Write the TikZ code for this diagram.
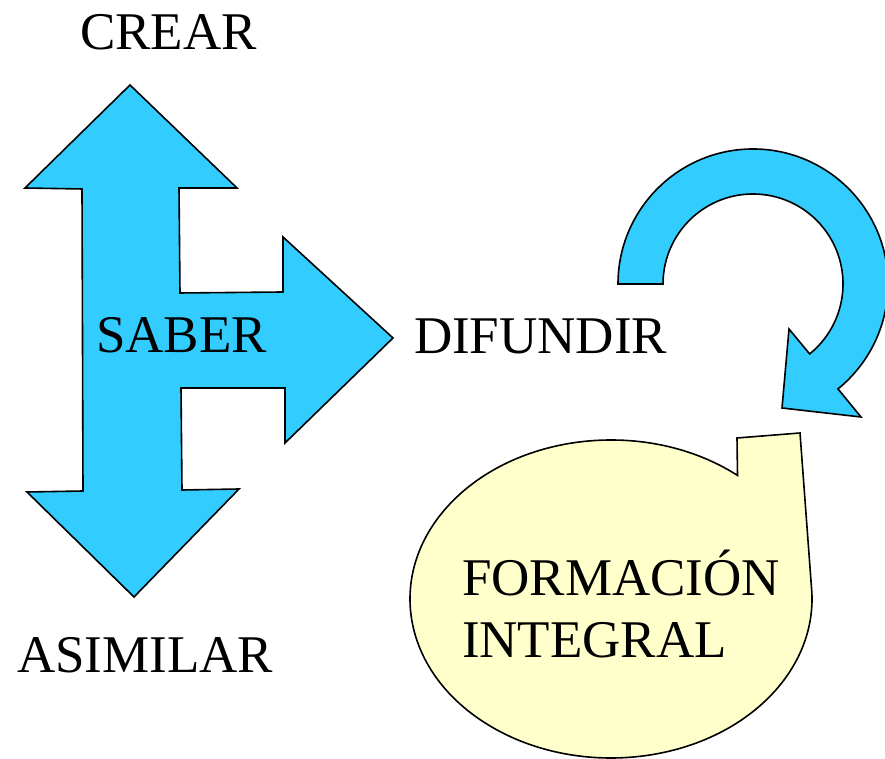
\documentclass[tikz,border=0pt]{standalone}
\usepackage{fontspec}
\setmainfont{Liberation Serif}
\usetikzlibrary{calc}
\definecolor{arrowblue}{HTML}{33CCFF}
\definecolor{bubbleyellow}{HTML}{FFFFCC}
\begin{document}
\begin{tikzpicture}[x=1pt,y=1pt,
  shapeblue/.style={fill=arrowblue,draw=black,line width=1.6pt,line join=miter},
  shapeyellow/.style={fill=bubbleyellow,draw=black,line width=1.6pt},
  bigtext/.style={inner sep=0pt,outer sep=0pt,font=\fontsize{53}{62}\selectfont}]
\clip (0,0) rectangle (885,759);
\fill[white] (0,0) rectangle (885,759);

% cross-shaped arrow
\draw[shapeblue] (130,674) -- (237,571) -- (179,571) -- (180,466) -- (283,467)
  -- (283,522) -- (393,421) -- (285,316) -- (285,371) -- (181,371) -- (182,269)
  -- (239,270) -- (134,162) -- (27,267) -- (83,268) -- (82,570) -- (25,571) -- cycle;

% curved arrow
\coordinate (cc) at (753,475);
\draw[shapeblue] ($(cc)+(180:135)$) arc[start angle=180,end angle=-51,radius=135]
  -- (861,342) -- (782,351) -- (789,430)
  -- ($(cc)+(-51:90)$) arc[start angle=-51,end angle=180,radius=90] -- cycle;

% speech bubble
\coordinate (bc) at (611,160);
\draw[shapeyellow] ($(bc)+(51:201 and 159)$)
  arc[start angle=51,end angle=364,x radius=201,y radius=159]
  -- (800,326) -- (737,321) -- cycle;

\node[bigtext,anchor=base west] (crear) at (80,709) {CREAR};
\node[bigtext,anchor=base west] (saber) at (96,406) {SABER};
\node[bigtext,anchor=base west] (difundir) at (414,405) {DIFUNDIR};
\node[bigtext,anchor=base west] (asimilar) at (17,86) {ASIMILAR};
\node[bigtext,anchor=base west] (formacion) at (462,163) {FORMACIÓN};
\node[bigtext,anchor=base west] (integral) at (462,101) {INTEGRAL};
\end{tikzpicture}
\end{document}
